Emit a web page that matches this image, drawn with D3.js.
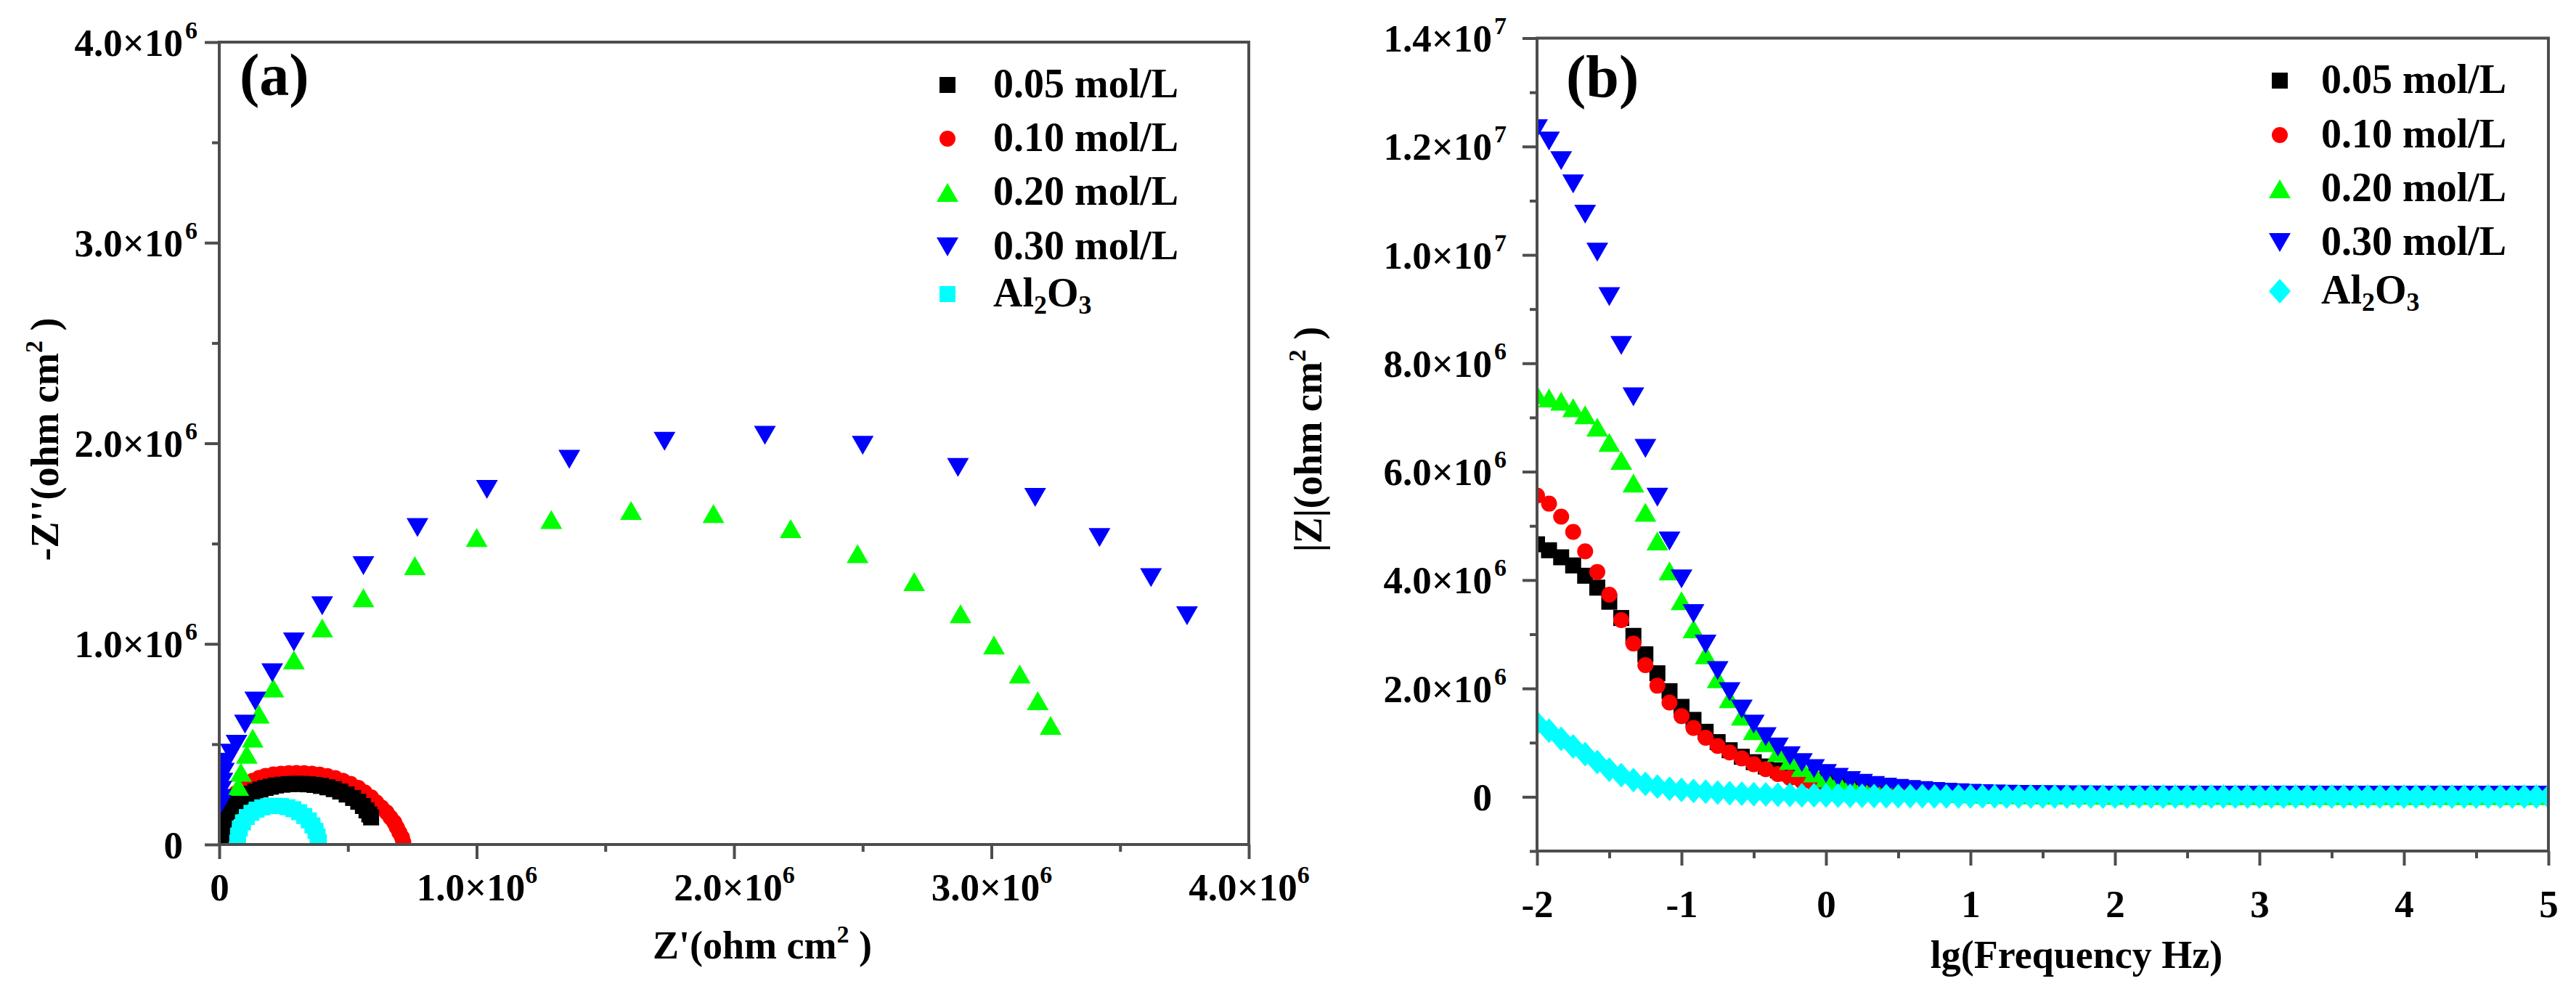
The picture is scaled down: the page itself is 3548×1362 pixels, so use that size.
<!DOCTYPE html>
<html>
<head>
<meta charset="utf-8">
<script src="https://cdn.jsdelivr.net/npm/d3@7"></script>
<style>
  body { margin: 0; background: #fff; }
  text { font-family: "Liberation Serif", "Times New Roman", serif; font-weight: bold; fill: #000; }
</style>
</head>
<body>
<div id="chart"></div>
<script>
// ---- data ----
const seriesNames = ["0.05 mol/L", "0.10 mol/L", "0.20 mol/L", "0.30 mol/L", "Al2O3"];
const seriesColors = ["#000000", "#ff0000", "#00ff00", "#0000ff", "#00ffff"];

// (a) Nyquist, [Z', -Z''] in 1e6 ohm cm2
const nyq005 = [[0.005,0.02],[0.008,0.05],[0.012,0.08],[0.018,0.11],[0.025,0.14],[0.035,0.165],[0.05,0.19],
  [0.065,0.21],[0.08,0.225],[0.10,0.24],[0.12,0.253],[0.14,0.264],[0.16,0.274],[0.18,0.282],[0.20,0.288],
  [0.22,0.294],[0.245,0.298],[0.27,0.301],[0.295,0.302],[0.32,0.302],[0.345,0.300],[0.37,0.297],[0.395,0.292],
  [0.42,0.285],[0.445,0.276],[0.47,0.264],[0.495,0.249],[0.52,0.232],[0.54,0.213],[0.558,0.192],[0.572,0.17],
  [0.583,0.15],[0.59,0.135]];
const nyq010 = [[0.008,0.03],[0.012,0.07],[0.018,0.11],[0.026,0.15],[0.036,0.19],[0.05,0.225],[0.065,0.255],
  [0.085,0.28],[0.105,0.30],[0.13,0.318],[0.155,0.332],[0.18,0.342],[0.21,0.349],[0.24,0.353],[0.27,0.356],
  [0.30,0.357],[0.33,0.356],[0.36,0.353],[0.39,0.348],[0.42,0.341],[0.45,0.331],[0.48,0.318],[0.51,0.302],
  [0.54,0.282],[0.565,0.26],[0.59,0.235],[0.61,0.21],[0.63,0.185],[0.65,0.16],[0.665,0.135],[0.68,0.11],
  [0.69,0.085],[0.70,0.06],[0.71,0.035],[0.715,0.012]];
const nyq020 = [[0.074,0.29],[0.084,0.36],[0.107,0.45],[0.13,0.53],[0.154,0.65],[0.21,0.78],[0.29,0.92],
  [0.40,1.08],[0.56,1.23],[0.76,1.39],[1.0,1.53],[1.29,1.62],[1.60,1.665],[1.92,1.65],[2.22,1.575],[2.48,1.45],
  [2.70,1.31],[2.88,1.15],[3.01,0.995],[3.11,0.85],[3.18,0.717],[3.23,0.594]];
const nyq030 = [[0.005,0.20],[0.006,0.23],[0.008,0.27],[0.012,0.31],[0.018,0.36],[0.027,0.41],[0.045,0.455],
  [0.067,0.50],[0.10,0.60],[0.14,0.715],[0.206,0.856],[0.29,1.01],[0.40,1.19],[0.56,1.39],[0.77,1.58],
  [1.04,1.77],[1.36,1.92],[1.73,2.01],[2.12,2.04],[2.50,1.99],[2.87,1.88],[3.17,1.73],[3.42,1.53],[3.62,1.33],
  [3.76,1.14]];
const nyqAl = [[0.07,0.01],[0.073,0.045],[0.08,0.08],[0.092,0.11],[0.107,0.137],[0.125,0.158],[0.145,0.174],
  [0.167,0.185],[0.19,0.191],[0.215,0.193],[0.24,0.192],[0.265,0.186],[0.288,0.176],[0.31,0.161],[0.33,0.142],
  [0.348,0.12],[0.362,0.095],[0.374,0.068],[0.382,0.04],[0.387,0.012]];

// (b) Bode |Z| in 1e6 ohm cm2 against lg(f)
const lgFreq = [-2.000,-1.917,-1.833,-1.750,-1.667,-1.583,-1.500,-1.417,-1.333,-1.250,-1.167,-1.083,
  -1.000,-0.917,-0.833,-0.750,-0.667,-0.583,-0.500,-0.417,-0.333,-0.250,-0.167,-0.083,
  0.000,0.083,0.167,0.250,0.333,0.417,0.500,0.583,0.667,0.750,0.833,0.917,
  1.000,1.083,1.167,1.250,1.333,1.417,1.500,1.583,1.667,1.750,1.833,1.917,
  2.000,2.083,2.167,2.250,2.333,2.417,2.500,2.583,2.667,2.750,2.833,2.917,
  3.000,3.083,3.167,3.250,3.333,3.417,3.500,3.583,3.667,3.750,3.833,3.917,
  4.000,4.083,4.167,4.250,4.333,4.417,4.500,4.583,4.667,4.750,4.833,4.917,
  5.000];
const mod005 = [4.66,4.55,4.42,4.27,4.08,3.86,3.60,3.30,2.97,2.63,2.28,1.95,
  1.66,1.42,1.20,1.01,0.86,0.74,0.64,0.56,0.49,0.43,0.37,0.31,
  0.26,0.21,0.17,0.14,0.12,0.10,0.09,0.08,0.07,0.06,0.05,0.045,
  0.04,0.037,0.035,0.033,0.031,0.030,0.029,0.028,0.027,0.026,0.025,0.025,
  0.024,0.024,0.023,0.023,0.023,0.022,0.022,0.022,0.022,0.021,0.021,0.021,
  0.021,0.021,0.020,0.020,0.020,0.020,0.020,0.020,0.020,0.020,0.020,0.020,
  0.020,0.020,0.020,0.020,0.020,0.020,0.020,0.020,0.020,0.020,0.020,0.020,
  0.020];
const mod010 = [5.56,5.41,5.17,4.89,4.53,4.15,3.73,3.26,2.83,2.43,2.05,1.74,
  1.49,1.27,1.09,0.94,0.82,0.71,0.60,0.51,0.42,0.35,0.29,0.24,
  0.20,0.16,0.13,0.11,0.09,0.08,0.07,0.06,0.05,0.045,0.04,0.036,
  0.033,0.031,0.029,0.027,0.026,0.025,0.024,0.023,0.022,0.022,0.021,0.021,
  0.020,0.020,0.020,0.020,0.020,0.020,0.020,0.020,0.020,0.020,0.020,0.020,
  0.020,0.020,0.020,0.020,0.020,0.020,0.020,0.020,0.020,0.020,0.020,0.020,
  0.020,0.020,0.020,0.020,0.020,0.020,0.020,0.020,0.020,0.020,0.020,0.020,
  0.020];
const mod020 = [7.42,7.36,7.30,7.18,7.05,6.82,6.54,6.21,5.79,5.25,4.72,4.17,
  3.62,3.10,2.62,2.18,1.81,1.49,1.22,1.00,0.82,0.67,0.54,0.44,
  0.35,0.29,0.24,0.20,0.17,0.145,0.125,0.11,0.095,0.08,0.07,0.06,
  0.055,0.05,0.046,0.043,0.040,0.038,0.036,0.034,0.033,0.032,0.031,0.030,
  0.030,0.029,0.029,0.028,0.028,0.028,0.027,0.027,0.027,0.027,0.026,0.026,
  0.026,0.026,0.026,0.026,0.026,0.026,0.025,0.025,0.025,0.025,0.025,0.025,
  0.025,0.025,0.025,0.025,0.025,0.025,0.025,0.025,0.025,0.025,0.025,0.025,
  0.025];
const mod030 = [12.33,12.10,11.74,11.31,10.75,10.05,9.23,8.33,7.38,6.43,5.53,4.72,
  4.02,3.38,2.82,2.33,1.94,1.62,1.34,1.11,0.92,0.76,0.63,0.52,
  0.43,0.36,0.30,0.25,0.21,0.18,0.155,0.135,0.115,0.10,0.085,0.075,
  0.065,0.058,0.052,0.048,0.045,0.042,0.040,0.038,0.036,0.035,0.034,0.033,
  0.032,0.031,0.031,0.030,0.030,0.029,0.029,0.029,0.028,0.028,0.028,0.028,
  0.027,0.027,0.027,0.027,0.027,0.027,0.027,0.027,0.027,0.027,0.027,0.027,
  0.027,0.027,0.027,0.027,0.027,0.027,0.027,0.027,0.027,0.027,0.027,0.027,
  0.027];
const modAl = [1.36,1.22,1.07,0.93,0.79,0.64,0.50,0.40,0.31,0.24,0.19,0.15,
  0.13,0.11,0.095,0.08,0.07,0.06,0.05,0.045,0.04,0.035,0.03,0.027,
  0.024,0.021,0.019,0.017,0.015,0.013,0.012,0.011,0.010,0.009,0.008,0.008,
  0.007,0.007,0.007,0.006,0.006,0.006,0.006,0.006,0.005,0.005,0.005,0.005,
  0.005,0.005,0.005,0.005,0.005,0.005,0.005,0.005,0.005,0.005,0.005,0.005,
  0.005,0.005,0.005,0.005,0.005,0.005,0.005,0.005,0.005,0.005,0.005,0.005,
  0.005,0.005,0.005,0.005,0.005,0.005,0.005,0.005,0.005,0.005,0.005,0.005,
  0.005];

// ---- drawing ----
const W = 3548, H = 1362;
const axisColor = "#4d4d4d";

const svg = d3.select("#chart").append("svg")
  .attr("width", W).attr("height", H)
  .attr("viewBox", `0 0 ${W} ${H}`);
svg.append("rect").attr("width", W).attr("height", H).attr("fill", "#fff");

// marker outlines, centred on 0,0
function markerPath(shape) {
  switch (shape) {
    case "square": return "M-11,-11H11V11H-11Z";
    case "circle": return "M11,0A11,11 0 1,1 -11,0A11,11 0 1,1 11,0Z";
    case "up": return "M0,-13L15,13L-15,13Z";
    case "down": return "M0,13L15,-13L-15,-13Z";
    case "diamond": return "M0,-17L15,0L0,17L-15,0Z";
  }
}

// "4.0×10^6" -> ["4.0×10", "6"]
function sciParts(v, unit) {
  const n = v * unit;
  if (n === 0) return ["0", ""];
  const e = Math.floor(Math.log10(n) + 1e-9);
  return [(n / Math.pow(10, e)).toFixed(1) + "×10", String(e)];
}

// restore the baseline after a raised superscript tspan
function fixBaseline(t) {
  let raised = false;
  t.selectAll("tspan").each(function () {
    const s = d3.select(this);
    const dy = +s.attr("dy");
    if (dy < 0) raised = true;
    else if (raised) { s.attr("dy", 22); raised = false; }
  });
}

function drawPanel(p) {
  const g = svg.append("g");
  const [x0, x1] = p.x.range();
  const [y1, y0] = p.y.range();

  g.append("clipPath").attr("id", p.id + "clip")
    .append("rect").attr("x", x0).attr("y", y0).attr("width", x1 - x0).attr("height", y1 - y0);

  // marks
  const plot = g.append("g").attr("clip-path", `url(#${p.id}clip)`);
  p.order.forEach(i => {
    plot.append("g").selectAll("path")
      .data(p.series[i])
      .join("path")
      .attr("d", markerPath(p.shapes[i]))
      .attr("transform", d => `translate(${p.x(d[0])},${p.y(d[1])})`)
      .attr("fill", seriesColors[i]);
  });

  // axes: minor then major ticks
  const styleAxis = sel => {
    sel.selectAll("line").attr("stroke", axisColor).attr("stroke-width", 4);
    sel.select(".domain").remove();
    sel.selectAll("text").remove();
  };
  g.append("g").attr("transform", `translate(0,${y1})`)
    .call(d3.axisBottom(p.x).tickValues(p.xMinor).tickSize(10).tickFormat("")).call(styleAxis);
  const xa = g.append("g").attr("transform", `translate(0,${y1})`)
    .call(d3.axisBottom(p.x).tickValues(p.xMajor).tickSize(20).tickFormat("")).call(styleAxis);
  g.append("g").attr("transform", `translate(${x0},0)`)
    .call(d3.axisLeft(p.y).tickValues(p.yMinor).tickSize(10).tickFormat("")).call(styleAxis);
  const ya = g.append("g").attr("transform", `translate(${x0},0)`)
    .call(d3.axisLeft(p.y).tickValues(p.yMajor).tickSize(20).tickFormat("")).call(styleAxis);

  // frame
  g.append("rect").attr("x", x0).attr("y", y0).attr("width", x1 - x0).attr("height", y1 - y0)
    .attr("fill", "none").attr("stroke", axisColor).attr("stroke-width", 4);

  // tick labels
  xa.selectAll(".tick").each(function (d) {
    const parts = p.xFormat(d);
    const t = d3.select(this).append("text").attr("y", p.xLabelDy)
      .attr("text-anchor", "middle").style("font-size", "53px").text(parts[0]);
    if (parts[1]) t.append("tspan").attr("dy", -24).style("font-size", "34px").text(parts[1]);
  });
  ya.selectAll(".tick").each(function (d) {
    const parts = sciParts(d, p.yUnit);
    const tk = d3.select(this);
    tk.append("text").attr("x", -p.yLabelDx).attr("y", 18)
      .attr("text-anchor", "end").style("font-size", "53px").text(parts[0]);
    if (parts[1]) tk.append("text").attr("x", -p.yLabelDx + 3).attr("y", -6)
      .attr("text-anchor", "start").style("font-size", "34px").text(parts[1]);
  });

  // axis titles
  const xt = g.append("text").attr("x", p.xTitle.x).attr("y", p.xTitle.y)
    .attr("text-anchor", "middle").style("font-size", "54px");
  p.xTitle.parts.forEach(([s, sup]) => {
    xt.append("tspan").attr("dy", sup ? -22 : 0).style("font-size", sup ? "34px" : "54px").text(s);
  });
  fixBaseline(xt);
  const yt = g.append("text")
    .attr("transform", `translate(${p.yTitle.x},${p.yTitle.y}) rotate(-90)`)
    .attr("text-anchor", "middle").style("font-size", "54px");
  p.yTitle.parts.forEach(([s, sup]) => {
    yt.append("tspan").attr("dy", sup ? -22 : 0).style("font-size", sup ? "34px" : "54px").text(s);
  });
  fixBaseline(yt);

  // panel tag
  g.append("text").attr("x", p.tag.x).attr("y", p.tag.y).style("font-size", "82px").text(p.tag.text);

  // legend
  const lg = g.append("g");
  [0, 1, 2, 3, 4].forEach((i, k) => {
    const yb = p.legend.rows[k];
    lg.append("path").attr("d", markerPath(p.shapes[i]))
      .attr("transform", `translate(${p.legend.mx},${yb - 17})`)
      .attr("fill", seriesColors[i]);
    const t = lg.append("text").attr("x", p.legend.tx).attr("y", yb).style("font-size", "56px");
    if (seriesNames[i] === "Al2O3") {
      t.append("tspan").text("Al");
      t.append("tspan").attr("dy", 10).style("font-size", "36px").text("2");
      t.append("tspan").attr("dy", -10).text("O");
      t.append("tspan").attr("dy", 10).style("font-size", "36px").text("3");
    } else {
      t.text(seriesNames[i]);
    }
  });
}

// (a)
drawPanel({
  id: "a",
  x: d3.scaleLinear([0, 4], [302, 1720]),
  y: d3.scaleLinear([0, 4], [1163, 58]),
  series: [nyq005, nyq010, nyq020, nyq030, nyqAl],
  shapes: ["square", "circle", "up", "down", "square"],
  order: [1, 0, 2, 3, 4],
  xMajor: [0, 1, 2, 3, 4], xMinor: [0.5, 1.5, 2.5, 3.5],
  yMajor: [0, 1, 2, 3, 4], yMinor: [0.5, 1.5, 2.5, 3.5],
  xFormat: d => sciParts(d, 1e6),
  xLabelDy: 77,
  yUnit: 1e6, yLabelDx: 50,
  xTitle: { x: 1050, y: 1320, parts: [["Z'(ohm cm", false], ["2", true], [" )", false]] },
  yTitle: { x: 80, y: 605, parts: [["-Z''(ohm cm", false], ["2", true], [" )", false]] },
  tag: { x: 330, y: 131, text: "(a)" },
  legend: { mx: 1305, tx: 1368, rows: [134, 208, 282, 357, 422] }
});

// (b)
const bodePts = arr => arr.map((v, i) => [lgFreq[i], v]);
drawPanel({
  id: "b",
  x: d3.scaleLinear([-2, 5], [2117, 3510]),
  y: d3.scaleLinear([-1, 14], [1172, 52.5]),
  series: [bodePts(mod005), bodePts(mod010), bodePts(mod020), bodePts(mod030), bodePts(modAl)],
  shapes: ["square", "circle", "up", "down", "diamond"],
  order: [0, 1, 2, 3, 4],
  xMajor: [-2, -1, 0, 1, 2, 3, 4, 5], xMinor: [-1.5, -0.5, 0.5, 1.5, 2.5, 3.5, 4.5],
  yMajor: [0, 2, 4, 6, 8, 10, 12, 14], yMinor: [-1, 1, 3, 5, 7, 9, 11, 13],
  xFormat: d => [String(d), ""],
  xLabelDy: 91,
  yUnit: 1e6, yLabelDx: 62,
  xTitle: { x: 2860, y: 1333, parts: [["lg(Frequency Hz)", false]] },
  yTitle: { x: 1820, y: 605, parts: [["|Z|(ohm cm", false], ["2", true], [" )", false]] },
  tag: { x: 2157, y: 133, text: "(b)" },
  legend: { mx: 3140, tx: 3197, rows: [128, 203, 277, 351, 418] }
});
</script>
</body>
</html>
